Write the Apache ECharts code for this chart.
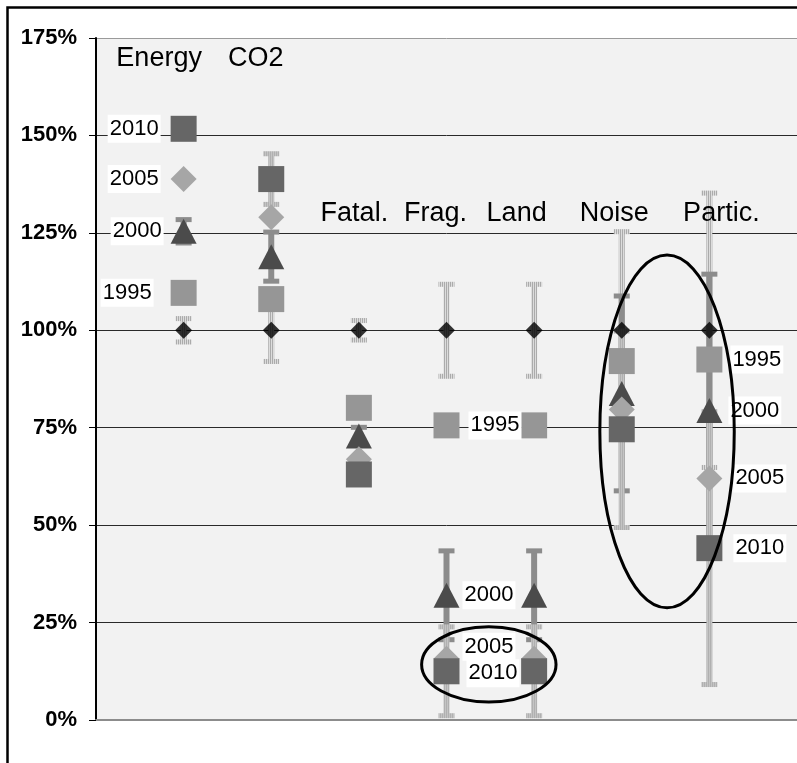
<!DOCTYPE html>
<html>
<head>
<meta charset="utf-8">
<script src="https://cdn.jsdelivr.net/npm/echarts@6/dist/echarts.min.js"></script>
<style>
  html, body { margin: 0; padding: 0; background: #ffffff; }
  #chart { width: 797px; height: 763px; }
</style>
</head>
<body>
<div id="chart"></div>
<script>
// ---- data (percent of 1995 level) ----
const categories = ['Energy', 'CO2', 'Fatal.', 'Frag.', 'Land', 'Noise', 'Partic.'];
const yTicks = [0, 25, 50, 75, 100, 125, 150, 175];

const baseline = [100, 100, 100, 100, 100, 100, 100];
const baselineErr = [3, 8, 2.5, 11.8, 11.8, 25.3, 35.2];

const v1995 = [109.6, 108, 80.1, 75.6, 75.6, 92.1, 92.5];
const v2000 = [125.4, 118.9, 72.9, 32, 32, 83.8, 79.4];
const err2000 = [3, 6.3, 2.2, 11.4, 11.4, 25, 35];
const v2005 = [138.8, 129, 66.9, 15.7, 15.7, 79.7, 62];
const v2010 = [151.7, 138.8, 63, 12.5, 12.5, 74.6, 44.1];
const err2010 = [2, 6.5, 2.5, 11.4, 11.4, 25.2, 35];

// ---- layout / style settings ----
const FONT = "'Liberation Sans', Arial, sans-serif";
// categories whose points carry year labels, and on which side
const labelSide = { 0: 'left', 3: 'right', 6: 'right' };
// label distances per year, per labelled category
const labelDist = {
  '1995': { 0: 17, 3: 9, 6: 8 },
  '2000': { 0: 7, 3: 3, 6: 6 },
  '2005': { 0: 10, 3: 3, 6: 11 },
  '2010': { 0: 10, 3: 7, 6: 11 }
};
const labelShift = { '2005': { 3: [0, -12] }, '2010': { 3: [0, 2] } };
// category names written inside the plot: horizontal shift (px) and height (value)
const nameDx = [-24.5, -15.5, -4.5, -11, -17.5, -7.5, 12];
const nameY = [169.6, 169.6, 130, 130, 130, 130, 130];

function stripes(a, b) {
  const c = document.createElement('canvas');
  c.width = 2; c.height = 2;
  const g = c.getContext('2d');
  g.fillStyle = a; g.fillRect(0, 0, 1, 2);
  g.fillStyle = b; g.fillRect(1, 0, 1, 2);
  return c;
}
const hatchBase = { image: stripes('#ababab', '#dcdcdc'), repeat: 'repeat' };
const hatch2010 = { image: stripes('#b0b0b0', '#c4c4c4'), repeat: 'repeat' };

function errData(vals, errs) {
  return vals.map((v, i) => [i + 1, v - errs[i], v + errs[i]]);
}

function errBar(fill) {
  return function (params, api) {
    const x = api.value(0);
    const pLo = api.coord([x, api.value(1)]);
    const pHi = api.coord([x, api.value(2)]);
    const bw = 6, cw = 16, ch = 5;
    return {
      type: 'group',
      children: [
        { type: 'rect', shape: { x: pHi[0] - bw / 2, y: pHi[1], width: bw, height: pLo[1] - pHi[1] }, style: { fill: fill } },
        { type: 'rect', shape: { x: pHi[0] - cw / 2, y: pHi[1] - ch / 2, width: cw, height: ch }, style: { fill: fill } },
        { type: 'rect', shape: { x: pLo[0] - cw / 2, y: pLo[1] - ch / 2, width: cw, height: ch }, style: { fill: fill } }
      ]
    };
  };
}

function pointData(vals, year) {
  return vals.map((v, i) => {
    const item = { value: [i + 1, v] };
    if (labelSide[i]) {
      item.label = {
        show: true,
        position: labelSide[i],
        distance: labelDist[year][i],
        offset: (labelShift[year] && labelShift[year][i]) || [0, 0],
        formatter: year
      };
    }
    return item;
  });
}

const labelStyle = {
  show: false,
  color: '#000000',
  fontFamily: FONT,
  fontSize: 22,
  backgroundColor: '#ffffff',
  padding: [3, 2, 3, 2]
};

function yearSeries(vals, year, symbol, size, color, z) {
  return {
    type: 'scatter',
    name: year,
    data: pointData(vals, year),
    symbol: symbol,
    symbolSize: size,
    itemStyle: { color: color, opacity: 1 },
    label: labelStyle,
    z: z,
    silent: true,
    animation: false
  };
}

const chart = echarts.init(document.getElementById('chart'), null, { renderer: 'canvas' });

chart.setOption({
  animation: false,
  backgroundColor: '#ffffff',
  grid: {
    left: 96, right: -3, top: 38, bottom: 43,
    show: true, backgroundColor: '#f2f2f2', borderWidth: 0
  },
  xAxis: {
    type: 'value', min: 0, max: 8,
    axisLabel: { show: false },
    axisTick: { show: false },
    splitLine: { show: false },
    axisLine: { show: true, onZero: false, lineStyle: { color: '#8c8c8c', width: 2 } }
  },
  yAxis: {
    type: 'value', min: yTicks[0], max: yTicks[yTicks.length - 1], interval: 25,
    axisLabel: {
      formatter: '{value}%', color: '#000000', fontFamily: FONT,
      fontSize: 22, fontWeight: 'bold', margin: 19
    },
    axisTick: { show: true, length: 7, lineStyle: { color: '#000000', width: 1 } },
    axisLine: { show: true, lineStyle: { color: '#000000', width: 2 } },
    splitLine: {
      show: true,
      lineStyle: {
        color: ['#8c8c8c', '#2a2a2a', '#2a2a2a', '#2a2a2a', '#2a2a2a', '#2a2a2a', '#2a2a2a', '#9a9a9a'],
        width: 1
      }
    }
  },
  series: [
    { type: 'custom', name: 'baseline range', data: errData(baseline, baselineErr), renderItem: errBar(hatchBase), z: 1, silent: true },
    { type: 'custom', name: '2000 range', data: errData(v2000, err2000), renderItem: errBar('#8c8c8c'), z: 2, silent: true },
    { type: 'custom', name: '2010 range', data: errData(v2010, err2010), renderItem: errBar(hatch2010), z: 3, silent: true },
    yearSeries(v1995, '1995', 'rect', 26, '#969696', 4),
    yearSeries(v2000, '2000', 'triangle', [26, 25], '#4b4b4b', 5),
    yearSeries(v2005, '2005', 'diamond', 26, '#a6a6a6', 6),
    yearSeries(v2010, '2010', 'rect', 26, '#666666', 7),
    {
      type: 'scatter', name: 'baseline',
      data: baseline.map((v, i) => [i + 1, v]),
      symbol: 'diamond', symbolSize: 17,
      itemStyle: { color: '#000000' },
      z: 8, silent: true
    }
  ]
});

// category names, the two highlighted groups and the frame
const toPx = (x, y) => chart.convertToPixel({ gridIndex: 0 }, [x, y]);
const graphics = [];
categories.forEach((name, i) => {
  const p = toPx(i + 1, nameY[i]);
  graphics.push({
    type: 'text', z: 20, silent: true,
    style: {
      x: p[0] + nameDx[i], y: p[1], text: name,
      fill: '#000000', font: '27px ' + FONT,
      align: 'center', verticalAlign: 'middle'
    }
  });
});

// highlighted groups: [center x, center y, half width (x units), half height (%)]
const groups = [
  [4.483, 14.25, 0.767, 9.65],
  [6.517, 74.05, 0.767, 45.25]
];
groups.forEach(g => {
  const c = toPx(g[0], g[1]);
  const e = toPx(g[0] + g[2], g[1] + g[3]);
  graphics.push({
    type: 'ellipse', z: 20, silent: true,
    shape: { cx: c[0], cy: c[1], rx: Math.abs(e[0] - c[0]), ry: Math.abs(c[1] - e[1]) },
    style: { fill: null, stroke: '#000000', lineWidth: 3 }
  });
});

graphics.push({
  type: 'rect', z: 20, silent: true,
  shape: { x: 7.5, y: 7.5, width: 800, height: 800 },
  style: { fill: null, stroke: '#000000', lineWidth: 2.5 }
});

chart.setOption({ graphic: graphics });
</script>
</body>
</html>
